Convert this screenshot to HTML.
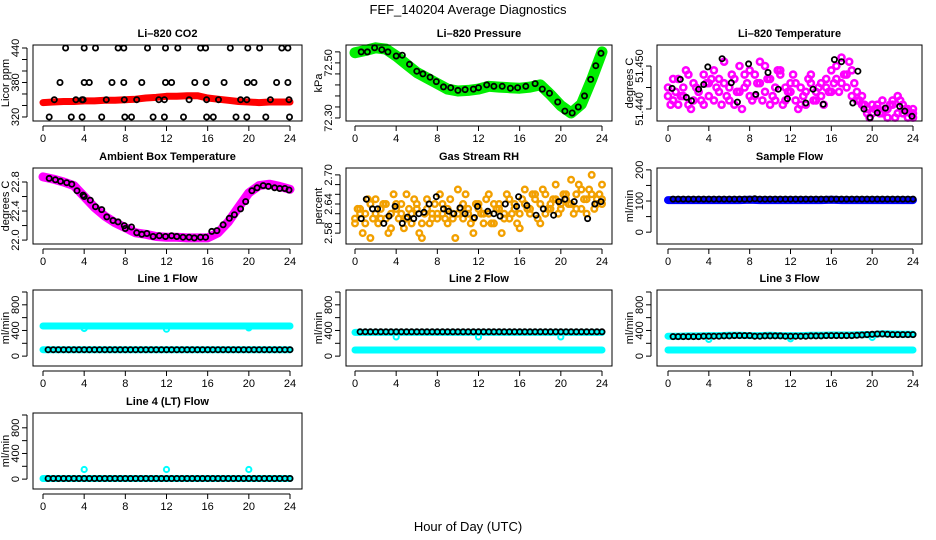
<!DOCTYPE html>
<html><head><meta charset="utf-8"><style>
body{margin:0;background:#fff;}
svg{display:block;font-family:"Liberation Sans",sans-serif;}
</style></head><body>
<svg id="chart" width="936" height="540" xmlns="http://www.w3.org/2000/svg">
<rect width="936" height="540" fill="#fff"/>
<text x="468" y="14" font-size="13" text-anchor="middle">FEF_140204  Average Diagnostics</text>
<text x="468" y="531" font-size="13" text-anchor="middle">Hour of Day (UTC)</text>
<g id="plots"></g>
</svg>
<script>
// ---------- data ----------
const hourTicks = [0,4,8,12,16,20,24];
const bandHours = [0,1,2,3,4,5,6,7,8,9,10,11,12,13,14,15,16,17,18,19,20,21,22,23,24];
const halfHours = [0,0.5,1,1.5,2,2.5,3,3.5,4,4.5,5,5.5,6,6.5,7,7.5,8,8.5,9,9.5,10,10.5,11,11.5,12,12.5,13,13.5,14,14.5,15,15.5,16,16.5,17,17.5,18,18.5,19,19.5,20,20.5,21,21.5,22,22.5,23,23.5,24];
const flowHours = [0.5,1,1.5,2,2.5,3,3.5,4,4.5,5,5.5,6,6.5,7,7.5,8,8.5,9,9.5,10,10.5,11,11.5,12,12.5,13,13.5,14,14.5,15,15.5,16,16.5,17,17.5,18,18.5,19,19.5,20,20.5,21,21.5,22,22.5,23,23.5,24];

// CO2
const co2Band = [345,346,347,347,348,348,349,349,350,351,353,354,356,356,357,357,353,351,349,347,346,345,346,346,346];
const co2BlackHours = [2.2,4.0,5.1,7.3,7.85,10.15,11.9,13.1,15.3,15.8,18.2,19.9,21.05,23.2,23.8,
 1.65,4.0,4.5,6.7,7.85,9.6,11.9,12.5,14.75,15.85,17.6,19.85,20.5,22.7,23.8,
 1.1,3.2,3.8,3.9,6.15,7.9,9.1,11.25,11.8,14.2,15.9,17.05,19.2,19.8,22.1,23.9,
 0.6,2.75,3.8,5.7,7.95,8.6,10.7,11.8,13.65,15.9,16.55,18.75,19.8,21.65,23.95];
const co2BlackVals = [440,440,440,440,440,440,440,440,440,440,440,440,440,440,440,
 380,380,380,380,380,380,380,380,380,380,380,380,380,380,380,
 350,350,350,350,350,350,350,350,350,350,350,350,350,350,350,350,
 320,320,320,320,320,320,320,320,320,320,320,320,320,320,320];

// Pressure
const presBand = [72.537,72.545,72.555,72.550,72.525,72.495,72.465,72.445,72.425,72.405,72.398,72.400,72.405,72.415,72.412,72.410,72.408,72.412,72.420,72.385,72.345,72.318,72.350,72.440,72.540];
const presBlackHours = [0.6,1.2,1.9,2.6,3.2,4.0,4.6,5.3,6.0,6.6,7.3,7.9,8.6,9.3,10.0,10.7,11.5,12.0,12.8,13.5,14.3,15.1,15.8,16.6,17.5,18.2,18.9,19.7,20.4,21.1,21.7,22.3,22.9,23.4,23.9];
const presBlackVals = [72.540,72.540,72.555,72.548,72.540,72.525,72.528,72.495,72.470,72.460,72.448,72.432,72.413,72.410,72.400,72.403,72.405,72.410,72.420,72.415,72.415,72.408,72.410,72.415,72.425,72.405,72.390,72.358,72.325,72.318,72.340,72.380,72.440,72.490,72.535];

// Li-820 temperature (offset from 51.440 in 0.001 degC)
const tempA = [5,2,7,3,1,6,4,8,3, 9,4,6,2,7,10,5,3, 8,11,4,7,2,9,5,6, 2,5,1,6,4,3,7,9, 10,6,8,3,4,1,0,-1, 1,-1,0,2,-1,1,0,-2];
const tempB = [3,7,1,5,8,2,4,1,6, 2,7,11,5,1,4,8,9, 3,6,10,1,5,8,2,4, 6,1,4,8,2,6,5,4, 7,12,5,9,2,3,-1,1, 0,2,-2,1,3,-1,-2,0];
const tempC = [1,4,3,9,0,5,2,6,7, 5,1,3,8,4,0,6,2, 6,2,7,3,9,1,4,8, 0,3,7,2,5,1,4,6, 4,8,11,6,2,1,-2,0, -1,0,1,-2,2,0,-1,-1];
const tempBlackHours = [0.4,1.2,1.8,2.3,3.0,3.5,3.9,5.3,6.2,6.8,7.9,8.6,9.8,10.8,11.7,13.5,14.2,15.2,16.3,17.0,18.1,18.6,19.2,19.8,20.5,21.3,22.7,23.2,23.9];
const tempBlackVals = [4.8,6.9,2.7,1.9,4.6,5.7,9.8,11.7,6.1,1.6,10.5,3.4,8.5,4.6,2.4,1.4,4.6,1.1,11.5,11.0,1.4,8.8,0,-2,-0.9,0.2,0.6,-0.5,-1.7];

// Ambient box temperature
const ambBand = [22.87,22.84,22.80,22.75,22.60,22.45,22.33,22.24,22.17,22.10,22.08,22.05,22.04,22.04,22.03,22.03,22.03,22.10,22.25,22.45,22.65,22.75,22.77,22.74,22.70];
const ambBlackHours = [0.6,1.2,1.7,2.3,2.8,3.3,3.9,4.0,4.6,5.1,5.7,6.2,6.8,7.3,7.9,8.0,8.6,9.1,9.6,10.1,10.7,11.3,11.9,12.5,13.0,13.6,14.2,14.7,15.3,15.8,16.4,16.9,17.5,18.1,18.6,19.2,19.7,20.3,20.8,21.4,21.9,22.5,23.0,23.5,23.9];
const ambBlackVals = [22.85,22.83,22.81,22.79,22.77,22.68,22.62,22.60,22.55,22.46,22.42,22.32,22.27,22.25,22.20,22.16,22.18,22.10,22.08,22.09,22.05,22.06,22.05,22.06,22.05,22.04,22.04,22.03,22.04,22.04,22.12,22.13,22.21,22.30,22.35,22.43,22.53,22.68,22.72,22.75,22.74,22.72,22.71,22.71,22.69];

// Gas stream RH
const rhA = [2.60,2.63,2.62,2.57,2.65,2.61,2.64,2.59,2.63, 2.62,2.66,2.60,2.63,2.57,2.65,2.61,2.62, 2.64,2.60,2.62,2.67,2.61,2.63,2.58,2.64, 2.62,2.66,2.60,2.64,2.61,2.65,2.63,2.59, 2.67,2.62,2.65,2.60,2.66,2.63,2.68,2.64, 2.66,2.69,2.63,2.67,2.62,2.70,2.65,2.68];
const rhB = [2.63,2.58,2.65,2.61,2.60,2.64,2.58,2.66,2.61, 2.59,2.63,2.65,2.58,2.62,2.60,2.64,2.66, 2.61,2.65,2.57,2.63,2.66,2.60,2.64,2.62, 2.65,2.60,2.63,2.58,2.66,2.62,2.60,2.65, 2.63,2.66,2.61,2.67,2.63,2.65,2.62,2.66, 2.64,2.62,2.68,2.65,2.67,2.63,2.66,2.64];
const rhC = [2.61,2.62,2.60,2.64,2.62,2.63,2.61,2.62,2.64, 2.64,2.61,2.62,2.64,2.60,2.63,2.62,2.61, 2.62,2.63,2.61,2.62,2.64,2.62,2.61,2.63, 2.60,2.62,2.64,2.63,2.62,2.61,2.64,2.62, 2.64,2.63,2.66,2.64,2.62,2.64,2.65,2.63, 2.65,2.64,2.66,2.63,2.65,2.66,2.64,2.65];
const rhBlackHours = [0.6,1.1,1.7,2.2,2.8,3.3,3.9,4.6,5.1,5.7,6.2,6.7,7.2,7.9,8.6,9.1,9.6,10.2,10.7,11.6,11.9,12.9,13.5,14.1,14.6,15.7,15.9,16.7,17.6,18.3,19.3,19.8,20.4,21.3,22.6,23.3,23.9];
const rhBlackVals = [2.61,2.65,2.63,2.63,2.60,2.615,2.635,2.60,2.613,2.61,2.62,2.623,2.64,2.655,2.63,2.625,2.62,2.632,2.62,2.612,2.635,2.625,2.62,2.615,2.64,2.635,2.655,2.637,2.617,2.63,2.617,2.645,2.65,2.645,2.61,2.64,2.645];

// Sample flow
const sampleBand = [103,103,103,103,103,103,103,103,104,103,103,103,103,103,103,103,104,103,103,103,103,103,103,103,103];
const sampleBlack = [106,106,106,106,106,106,106,106,106,106,106,106,106,106,106,106,107,106,106,106,106,106,106,106,106,106,106,106,106,106,106,106,106,106,106,106,106,106,106,106,106,106,106,106,106,106,106,106];

// Line flows
const line1High = [470,470,470,470,470,470,470,470,470,470,470,470,470,470,470,470,470,470,470,470,470,470,470,470,470];
const line1Low = [100,100,100,100,100,100,100,100,100,100,100,100,100,100,100,100,100,100,100,100,100,100,100,100,100];
const line1Black = [100,100,100,100,100,100,100,100,100,100,100,100,100,100,100,100,100,100,100,100,100,100,100,100,100,100,100,100,100,100,100,100,100,100,100,100,100,100,100,100,100,100,100,100,100,100,100,100];
const line2High = [370,370,370,370,370,370,370,370,370,370,370,370,370,370,370,370,370,370,370,370,370,370,370,370,370];
const line2Low = [95,95,95,95,95,95,95,95,95,95,95,95,95,95,95,95,95,95,95,95,95,95,95,95,95];
const line2Black = [380,380,380,380,380,380,380,380,380,380,380,380,380,380,380,380,380,380,380,380,380,380,380,380,380,380,380,380,380,380,380,380,380,380,380,380,380,380,380,380,380,380,380,380,380,380,380,380];
const line3High = [310,310,315,315,320,320,325,325,320,320,325,320,320,320,325,325,330,330,330,335,335,350,345,340,340];
const line3Low = [95,95,95,95,95,95,95,95,95,95,95,95,95,95,95,95,95,95,95,95,95,95,95,95,95];
const line3Black = [305,305,305,305,305,305,310,310,310,310,315,315,320,320,320,320,310,310,315,315,315,315,310,310,310,310,310,315,315,315,320,320,320,320,320,320,325,330,335,340,345,345,340,335,335,335,335,335];
const line4Low = [10,10,10,10,10,10,10,10,10,10,10,10,10,10,10,10,10,10,10,10,10,10,10,10,10];
const line4Black = [10,10,10,10,10,10,10,10,10,10,10,10,10,10,10,10,10,10,10,10,10,10,10,10,10,10,10,10,10,10,10,10,10,10,10,10,10,10,10,10,10,10,10,10,10,10,10,10];
const spikeHours = [4,12,20];
const line1Dips = [430,420,440];
const line2Dips = [300,300,300];
const line3Dips = [260,270,290];
const line4Spikes = [150,150,150];

// ---------- drawing ----------
const NS = 'http://www.w3.org/2000/svg';
const root = document.getElementById('plots');
function mk(tag, attrs, parent){
  const e = document.createElementNS(NS, tag);
  for (const k in attrs) e.setAttribute(k, attrs[k]);
  (parent||root).appendChild(e);
  return e;
}
const cols = [{l:33,r:302,x0:43,x24:290},{l:346,r:612,x0:355,x24:602},{l:657,r:922,x0:668,x24:913}];
const rows = [45,168,290,413];
const H = 76;

function panel(name, col, row, title, ylab, ymin, ymax, ticks, labels){
  const c = cols[col], top = rows[row], bot = top + H;
  const g = mk('g', {});
  
  
  const p = {g, c, top, bot,
    x: h => c.x0 + (c.x24 - c.x0) * h / 24,
    y: v => bot - (v - ymin) / (ymax - ymin) * H};
  const t = mk('text', {x:(c.l+c.r)/2, y:top-8, 'font-size':11, 'font-weight':'bold', 'text-anchor':'middle'}, g);
  t.textContent = title;
  
  
  const yl = mk('text', {x:0, y:0, 'font-size':11, 'text-anchor':'middle', transform:`translate(${c.l-24},${(top+bot)/2}) rotate(-90)`}, g);
  yl.textContent = ylab;
  
  
  const xa = mk('g', {}, g);
  
  
  mk('line', {x1:p.x(0), x2:p.x(24), y1:bot+5, y2:bot+5, stroke:'#000'}, xa);
  hourTicks.forEach(h => {
    mk('line', {x1:p.x(h), x2:p.x(h), y1:bot+5, y2:bot+10, stroke:'#000'}, xa);
    const tl = mk('text', {x:p.x(h), y:bot+21, 'font-size':11, 'text-anchor':'middle'}, xa);
    tl.textContent = h;
  });
  const ya = mk('g', {}, g);
  
  
  mk('line', {x1:c.l-6, x2:c.l-6, y1:p.y(ticks[0]), y2:p.y(ticks[ticks.length-1]), stroke:'#000'}, ya);
  ticks.forEach(v => mk('line', {x1:c.l-11, x2:c.l-6, y1:p.y(v), y2:p.y(v), stroke:'#000'}, ya));
  labels.forEach(lb => {
    const tl = mk('text', {x:0, y:0, 'font-size':11, 'text-anchor':'middle', transform:`translate(${c.l-14},${p.y(parseFloat(lb))}) rotate(-90)`}, ya);
    tl.textContent = lb;
  });
  p.marks = mk('g', {}, g);
  mk('rect', {x:c.l, y:top, width:c.r-c.l, height:H, fill:'none', stroke:'#000'}, g);
  return p;
}
function band(p, name, hours, vals, color, w){
  const pts = hours.map((h,i) => p.x(h).toFixed(1) + ',' + p.y(vals[i]).toFixed(1)).join(' ');
  const e = mk('polyline', {points:pts, fill:'none', stroke:color, 'stroke-width':w, 'stroke-linejoin':'round', 'stroke-linecap':'round'}, p.marks);
  
  
}
function pts(p, name, hours, vals, color, r, sw, tr){
  const g = mk('g', {}, p.marks);
  
  
  hours.forEach((h,i) => {
    const v = tr ? tr(vals[i]) : vals[i];
    mk('circle', {cx:p.x(h).toFixed(1), cy:p.y(v).toFixed(1), r:r, fill:'none', stroke:color, 'stroke-width':sw}, g);
  });
}
const seq = (a,b,s) => { const r=[]; for(let v=a; v<=b+1e-9; v+=s) r.push(+v.toFixed(4)); return r; };

let p = panel('co2', 0, 0, 'Li\u2013820 CO2', 'Licor ppm', 313, 445.2, seq(320,440,20), ['320','380','440']);
band(p, 'co2-band', bandHours, co2Band, '#ff0000', 7);
pts(p, 'co2-points', co2BlackHours, co2BlackVals, '#000', 2.6, 1.8);

p = panel('pressure', 1, 0, 'Li\u2013820 Pressure', 'kPa', 72.289, 72.565, seq(72.30,72.54,0.04), ['72.30','72.50']);
band(p, 'pressure-band', bandHours, presBand, '#00ee00', 11);
pts(p, 'pressure-points', presBlackHours, presBlackVals, '#000', 2.6, 1.8);

p = panel('li820-temp', 2, 0, 'Li\u2013820 Temperature', 'degrees C', 51.4372, 51.4549, [51.440,51.445,51.450], ['51.440','51.450']);
const tOff = v => 51.44 + v/1000;
pts(p, 'temp-points-a', halfHours, tempA, '#ff00ff', 3, 2.6, tOff);
pts(p, 'temp-points-b', halfHours, tempB, '#ff00ff', 3, 2.6, tOff);
pts(p, 'temp-points-c', halfHours.map(h=>Math.min(24,h+0.25)), tempC, '#ff00ff', 3, 2.6, tOff);
pts(p, 'temp-black-points', tempBlackHours, tempBlackVals, '#000', 2.6, 1.8, tOff);

p = panel('ambient-temp', 0, 1, 'Ambient Box Temperature', 'degrees C', 21.946, 22.993, seq(22.0,22.8,0.2), ['22.0','22.4','22.8']);
band(p, 'ambient-band', bandHours, ambBand, '#ff00ff', 9);
pts(p, 'ambient-points', ambBlackHours, ambBlackVals, '#000', 2.6, 1.8);

p = panel('gas-rh', 1, 1, 'Gas Stream RH', 'percent', 2.5576, 2.7142, seq(2.58,2.70,0.02), ['2.58','2.64','2.70']);
pts(p, 'rh-points-a', halfHours, rhA, '#f2a000', 2.8, 2.4);
pts(p, 'rh-points-b', halfHours.map(h=>Math.min(24,h+0.25)), rhB, '#f2a000', 2.8, 2.4);
pts(p, 'rh-points-c', halfHours, rhC, '#f2a000', 2.8, 2.4);
pts(p, 'rh-black-points', rhBlackHours, rhBlackVals, '#000', 2.6, 1.8);

p = panel('sample-flow', 2, 1, 'Sample Flow', 'ml/min', -38, 206, seq(0,200,50), ['0','100','200']);
band(p, 'sample-band', bandHours, sampleBand, '#0000ff', 8);
pts(p, 'sample-points', flowHours, sampleBlack, '#000', 2.6, 1.8);

const fTicks = seq(0,1000,200), fLabels = ['0','400','800'];
p = panel('line1-flow', 0, 2, 'Line 1 Flow', 'ml/min', -154, 1031, fTicks, fLabels);
band(p, 'line1-high-band', bandHours, line1High, '#00ffff', 7);
band(p, 'line1-low-band', bandHours, line1Low, '#00ffff', 7);
pts(p, 'line1-dips', spikeHours, line1Dips, '#00ffff', 2.6, 2);
pts(p, 'line1-points', flowHours, line1Black, '#000', 2.6, 1.8);

p = panel('line2-flow', 1, 2, 'Line 2 Flow', 'ml/min', -154, 1031, fTicks, fLabels);
band(p, 'line2-high-band', bandHours, line2High, '#00ffff', 7);
band(p, 'line2-low-band', bandHours, line2Low, '#00ffff', 7);
pts(p, 'line2-dips', spikeHours, line2Dips, '#00ffff', 2.6, 2);
pts(p, 'line2-points', flowHours, line2Black, '#000', 2.6, 1.8);

p = panel('line3-flow', 2, 2, 'Line 3 Flow', 'ml/min', -154, 1031, fTicks, fLabels);
band(p, 'line3-high-band', bandHours, line3High, '#00ffff', 7);
band(p, 'line3-low-band', bandHours, line3Low, '#00ffff', 7);
pts(p, 'line3-dips', spikeHours, line3Dips, '#00ffff', 2.6, 2);
pts(p, 'line3-points', flowHours, line3Black, '#000', 2.6, 1.8);

p = panel('line4-flow', 0, 3, 'Line 4 (LT) Flow', 'ml/min', -154, 1031, fTicks, fLabels);
band(p, 'line4-band', bandHours, line4Low, '#00ffff', 7);
pts(p, 'line4-spikes', spikeHours, line4Spikes, '#00ffff', 2.6, 2);
pts(p, 'line4-points', flowHours, line4Black, '#000', 2.6, 1.8);
</script>
</body></html>
